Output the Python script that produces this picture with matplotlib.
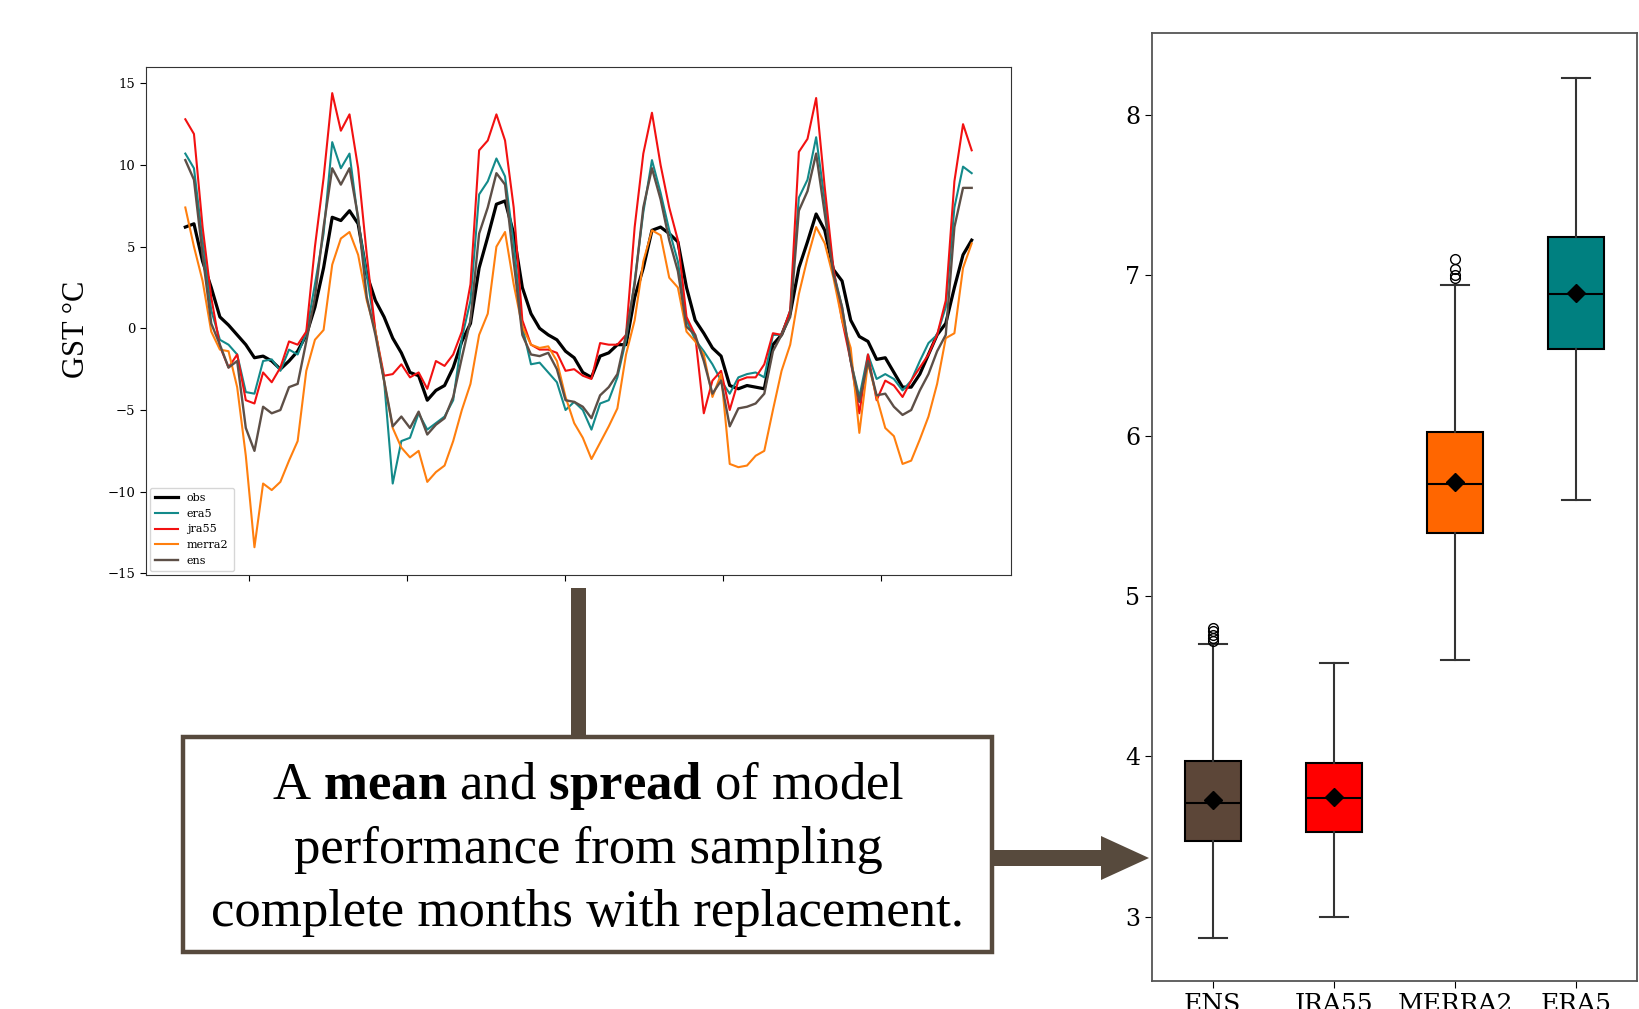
import matplotlib
matplotlib.use("Agg")
import pandas as pd
import matplotlib.pyplot as plt
import matplotlib.dates as mdates
from matplotlib.patches import Rectangle, Polygon
from matplotlib.transforms import Affine2D

plt.rcParams["mathtext.fontset"] = "custom"
plt.rcParams["mathtext.rm"] = "Liberation Serif"
plt.rcParams["mathtext.bf"] = "Liberation Serif:bold"

# ground surface temperature, one value every 20 days
dates = pd.date_range("2013-08-06", periods=92, freq="20D")

obs = [6.2, 6.4, 4.1, 2.5, 0.7, 0.2, -0.4, -1.0, -1.8, -1.7, -2.0, -2.5, -2.0, -1.4, -0.4, 1.3,
       3.7, 6.8, 6.6, 7.2, 6.4, 3.3, 1.7, 0.7, -0.6, -1.5, -2.7, -2.9, -4.4, -3.8, -3.5, -2.4,
       -0.8, 0.3, 3.7, 5.6, 7.6, 7.8, 5.8, 2.5, 0.9, 0.0, -0.4, -0.7, -1.4, -1.8, -2.7, -3.0,
       -1.7, -1.5, -1.0, -1.0, 1.9, 3.7, 6.0, 6.2, 5.8, 5.3, 2.5, 0.5, -0.3, -1.2, -1.7, -3.5,
       -3.7, -3.5, -3.6, -3.7, -1.0, -0.4, 0.9, 3.7, 5.3, 7.0, 6.0, 3.6, 2.9, 0.5, -0.5, -0.8,
       -1.9, -1.8, -2.7, -3.6, -3.6, -2.8, -1.6, -0.4, 0.3, 2.5, 4.5, 5.4]
era5 = [10.7, 9.8, 5.4, 1.1, -0.7, -1.0, -1.6, -3.9, -4.0, -2.0, -1.9, -2.6, -1.3, -1.6, -0.3, 2.7,
        5.8, 11.4, 9.8, 10.7, 6.6, 3.3, -0.2, -3.2, -9.5, -6.9, -6.7, -5.2, -6.2, -5.8, -5.4, -4.4,
        -0.6, 1.7, 8.2, 9.0, 10.4, 9.3, 5.2, 0.1, -2.2, -2.1, -2.7, -3.3, -5.0, -4.5, -5.0, -6.2,
        -4.6, -4.4, -3.0, -0.7, 2.9, 7.1, 10.3, 8.3, 6.0, 4.1, 0.5, -0.7, -1.4, -2.2, -3.2, -4.0,
        -3.0, -2.8, -2.7, -3.0, -0.4, -0.4, 1.1, 8.0, 9.1, 11.7, 7.8, 3.5, 1.3, -2.0, -4.2, -1.6,
        -3.1, -2.8, -3.1, -3.8, -3.2, -2.0, -0.9, -0.4, 1.3, 7.4, 9.9, 9.5]
jra55 = [12.8, 11.9, 6.2, 1.9, -1.1, -2.4, -1.6, -4.4, -4.6, -2.7, -3.3, -2.4, -0.8, -1.0, -0.2, 5.0,
         9.2, 14.4, 12.1, 13.1, 9.8, 4.5, -0.2, -2.9, -2.8, -2.2, -3.0, -2.7, -3.7, -2.0, -2.3, -1.6,
         -0.2, 2.7, 10.9, 11.5, 13.1, 11.5, 7.4, 0.5, -1.0, -1.3, -1.3, -1.5, -2.6, -2.5, -2.9, -3.1,
         -0.9, -1.0, -1.0, -0.4, 6.2, 10.7, 13.2, 10.0, 7.4, 5.4, 0.7, -0.4, -5.2, -3.2, -2.6, -5.0,
         -3.2, -3.0, -3.0, -2.2, -0.3, -0.4, 1.1, 10.8, 11.6, 14.1, 8.6, 3.7, 0.5, -2.0, -5.2, -1.6,
         -4.4, -3.2, -3.5, -4.2, -3.2, -2.4, -1.6, -0.4, 1.7, 9.0, 12.5, 10.9]
merra2 = [7.4, 5.0, 2.9, -0.2, -1.3, -1.4, -3.6, -7.8, -13.4, -9.5, -9.9, -9.4, -8.1, -6.9, -2.6, -0.7,
          -0.1, 3.9, 5.5, 5.9, 4.5, 1.7, -0.2, -3.2, -6.1, -7.3, -7.9, -7.5, -9.4, -8.8, -8.4, -6.9,
          -5.0, -3.4, -0.4, 0.9, 5.0, 5.9, 2.7, 0.1, -1.0, -1.2, -1.1, -2.0, -4.2, -5.8, -6.7, -8.0,
          -7.0, -6.0, -4.9, -1.6, 0.5, 4.1, 6.0, 5.7, 3.1, 2.5, -0.2, -0.8, -1.6, -4.2, -2.8, -8.3,
          -8.5, -8.4, -7.8, -7.5, -5.0, -2.6, -1.0, 2.1, 4.3, 6.2, 5.2, 3.1, 0.5, -1.2, -6.4, -2.1,
          -4.2, -6.1, -6.6, -8.3, -8.1, -6.8, -5.4, -3.4, -0.6, -0.3, 3.7, 5.2]
ens = [10.3, 9.1, 4.5, 0.3, -1.0, -2.4, -2.0, -6.1, -7.5, -4.8, -5.2, -5.0, -3.6, -3.4, -0.8, 1.9,
       6.2, 9.8, 8.8, 9.8, 6.8, 1.9, -0.4, -3.2, -6.0, -5.4, -6.1, -5.1, -6.5, -5.9, -5.5, -4.2,
       -1.8, 0.5, 5.8, 7.4, 9.5, 8.8, 4.1, -0.4, -1.6, -1.7, -1.5, -2.5, -4.4, -4.5, -4.8, -5.5,
       -4.1, -3.6, -2.8, -0.4, 2.7, 7.4, 9.8, 7.9, 5.4, 3.5, 0.1, -0.4, -2.0, -4.0, -3.2, -6.0,
       -4.9, -4.8, -4.6, -4.0, -1.4, -0.4, 0.7, 7.2, 8.4, 10.7, 7.0, 3.3, 1.3, -2.0, -4.5, -2.0,
       -4.1, -4.0, -4.8, -5.3, -5.0, -3.8, -2.8, -1.4, -0.4, 6.2, 8.6, 8.6]

# bootstrap summary per product
box_names = ["ENS", "JRA55", "MERRA2", "ERA5"]
box_q1 = [3.47, 3.53, 5.39, 6.54]
box_med = [3.71, 3.74, 5.70, 6.88]
box_q3 = [3.97, 3.96, 6.02, 7.24]
box_lo = [2.87, 3.00, 4.60, 5.60]
box_hi = [4.70, 4.58, 6.94, 8.23]
box_mean = [3.73, 3.75, 5.71, 6.89]
box_fliers = [[4.72, 4.74, 4.76, 4.78, 4.80], [], [6.98, 7.00, 7.04, 7.10], []]
box_colors = ["#5c4638", "#ff0000", "#ff6600", "#008080"]

brown = "#574a3d"

fig = plt.figure(figsize=(16.4, 10.09), dpi=100)
# pixel coords measured from the top-left corner
pix = Affine2D().scale(1 / 1640, -1 / 1009).translate(0, 1) + fig.transFigure

# --- time series panel
ax1 = fig.add_axes([146 / 1640, 1 - 575 / 1009, 865 / 1640, 508 / 1009])
series = [("obs", obs, "black", 2.3), ("era5", era5, "#138a8a", 1.5), ("jra55", jra55, "#f21111", 1.5),
          ("merra2", merra2, "#ff7f0e", 1.5), ("ens", ens, "#5d4f47", 1.7)]
for name, vals, col, lw in series:
    ax1.plot(dates, vals, color=col, lw=lw, label=name)
ax1.set_ylim(-15.1, 16.0)
ax1.set_yticks([-15, -10, -5, 0, 5, 10, 15])
ax1.xaxis.set_major_locator(mdates.YearLocator())
ax1.tick_params(axis="x", labelbottom=False, length=4)
ax1.tick_params(axis="y", labelsize=9.5, length=4)
for lab in ax1.get_yticklabels():
    lab.set_family("DejaVu Serif")
for sp in ax1.spines.values():
    sp.set_color("#333333")
ax1.legend(loc="lower left", prop={"family": "DejaVu Serif", "size": 8}, handlelength=2.0,
           borderaxespad=0.35, labelspacing=0.5, borderpad=0.5)
fig.text(77, 329, "GST °C", transform=pix, rotation=90, ha="center", va="center",
         fontsize=22, family="Liberation Serif")

# --- boxplot panel
ax2 = fig.add_axes([1152 / 1640, 1 - 981 / 1009, 485 / 1640, 948 / 1009])
stats = []
for i in range(len(box_names)):
    stats.append({"label": box_names[i], "q1": box_q1[i], "med": box_med[i], "q3": box_q3[i],
                  "whislo": box_lo[i], "whishi": box_hi[i], "mean": box_mean[i], "fliers": box_fliers[i]})
bp = ax2.bxp(stats, positions=[1, 2, 3, 4], widths=0.46, showmeans=True, patch_artist=True,
             boxprops=dict(edgecolor="black", linewidth=1.5),
             medianprops=dict(color="black", linewidth=1.5),
             whiskerprops=dict(color="#333333", linewidth=1.5),
             capprops=dict(color="#333333", linewidth=1.5),
             meanprops=dict(marker="D", markerfacecolor="black", markeredgecolor="black", markersize=9),
             flierprops=dict(marker="o", markerfacecolor="none", markeredgecolor="black", markersize=7))
for patch, col in zip(bp["boxes"], box_colors):
    patch.set_facecolor(col)
ax2.set_xlim(0.5, 4.5)
ax2.set_ylim(2.60, 8.51)
ax2.set_yticks([3, 4, 5, 6, 7, 8])
ax2.tick_params(axis="x", labelsize=18, length=5)
ax2.tick_params(axis="y", labelsize=17, length=5)
for lab in ax2.get_xticklabels() + ax2.get_yticklabels():
    lab.set_family("DejaVu Serif")
for sp in ax2.spines.values():
    sp.set_color("#555555")
    sp.set_linewidth(1.3)

# --- connector, caption box and arrow
fig.add_artist(Rectangle((571, 588), 15, 149, transform=pix, facecolor=brown, edgecolor="none"))
fig.add_artist(Rectangle((183, 737), 809, 215, transform=pix, facecolor="white", edgecolor=brown, linewidth=3.2))
fig.add_artist(Polygon([(994, 850), (1101, 850), (1101, 836), (1149, 858), (1101, 880), (1101, 866), (994, 866)],
                       closed=True, transform=pix, facecolor=brown, edgecolor="none"))

lines = [r"A $\mathbf{mean}$ and $\mathbf{spread}$ of model",
         "performance from sampling",
         "complete months with replacement."]
baselines = [799, 863, 926]
for txt, yb in zip(lines, baselines):
    fig.text(588, yb, txt, transform=pix, ha="center", va="baseline", fontsize=38, family="Liberation Serif")

fig.savefig("out.png", dpi=100)
